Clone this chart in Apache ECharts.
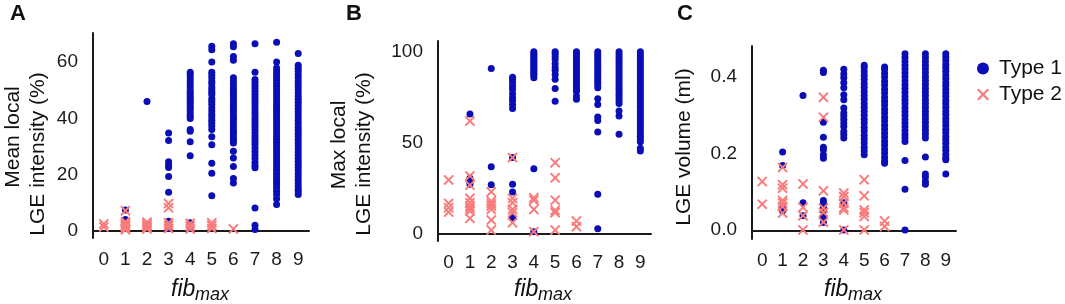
<!DOCTYPE html>
<html>
<head>
<meta charset="utf-8">
<script src="https://cdn.jsdelivr.net/npm/echarts@6/dist/echarts.min.js"></script>
<style>
  html, body { margin: 0; padding: 0; background: #fff; }
  #main { width: 1065px; height: 304px; }
</style>
</head>
<body>
<div id="main"></div>
<script>
// fib_max categories, shared by the three panels
var categories = ['0', '1', '2', '3', '4', '5', '6', '7', '8', '9'];

// tick labels
var meanTicks = [0, 20, 40, 60];
var maxTicks = [0, 50, 100];
var volTicks = [0, 0.2, 0.4];

// A: mean local LGE intensity (%), one list per fib_max category
var meanType1 = [
  [],
  [7.5, 4.2],
  [46.0],
  [34.8, 32.2, 24.6, 23.6, 22.6, 19.4, 13.8, 3.5, 2.2, 1.0],
  [56.4, 55.5, 54.4, 53.4, 52.3, 51.2, 50.2, 49.3, 48.5, 47.5, 46.7, 45.9, 45.2, 44.3, 43.5, 42.6, 41.6, 40.8, 40.0, 36.1, 35.5, 31.7, 26.8, 3.0, 1.2],
  [65.6, 64.4, 60.0, 56.4, 55.4, 54.3, 53.1, 52.2, 51.0, 50.1, 49.2, 48.4, 47.0, 46.1, 45.0, 43.7, 42.6, 41.5, 40.5, 39.4, 38.4, 37.3, 36.1, 33.5, 30.7, 24.1, 20.6, 12.6],
  [66.5, 65.4, 62.0, 60.6, 54.4, 53.3, 52.1, 51.0, 50.0, 48.9, 48.0, 47.1, 46.0, 44.9, 44.0, 43.1, 42.0, 40.9, 40.0, 39.1, 38.0, 37.0, 35.9, 35.0, 34.1, 33.0, 32.1, 31.3, 28.4, 26.0, 23.0, 18.7, 17.1],
  [66.5, 56.4, 53.8, 52.8, 51.8, 50.7, 49.6, 48.6, 47.6, 46.5, 45.5, 44.4, 43.4, 42.3, 41.3, 40.2, 39.2, 38.1, 37.1, 36.0, 35.0, 33.9, 32.9, 31.8, 30.8, 29.5, 28.3, 27.0, 25.8, 24.5, 23.4, 22.5, 8.2, 2.1, 0.6],
  [67.0, 60.0, 57.9, 56.8, 55.7, 54.6, 53.5, 52.4, 51.3, 50.2, 49.1, 48.0, 46.9, 45.8, 44.7, 43.6, 42.5, 41.4, 40.3, 39.2, 38.1, 37.0, 35.9, 34.8, 33.7, 32.6, 31.5, 30.4, 29.3, 28.2, 27.1, 26.0, 24.9, 23.8, 22.7, 21.6, 20.5, 19.4, 18.3, 17.2, 16.5, 15.4, 14.2, 13.0, 11.5, 9.5],
  [63.0, 58.9, 57.8, 56.7, 55.6, 54.5, 53.4, 52.3, 51.2, 50.1, 49.0, 47.9, 46.8, 45.7, 44.6, 43.5, 42.4, 41.3, 40.2, 39.1, 38.0, 36.9, 35.8, 34.7, 33.6, 32.5, 31.4, 30.3, 29.2, 28.1, 27.0, 25.9, 24.8, 23.7, 22.6, 21.5, 20.4, 19.3, 18.2, 17.1, 16.0, 14.9, 14.0, 13.0]
];
var meanType2 = [
  [1.5, 2.6],
  [7.3, 3.4, 2.8, 2.2, 1.6, 1.0, 0.5],
  [3.2, 2.6, 2.0, 1.4, 0.8],
  [9.8, 8.3, 3.0, 2.0, 1.0],
  [2.8, 1.8, 0.8],
  [3.0, 2.0, 1.0],
  [0.8],
  [], [], []
];

// B: max local LGE intensity (%)
var maxType1 = [
  [],
  [65.7, 30.3, 28.3, 27.0],
  [90.8, 36.7, 26.8],
  [86.0, 84.8, 83.0, 81.0, 79.3, 76.9, 74.7, 73.2, 71.0, 68.8, 41.7, 27.0, 22.8, 8.6],
  [100, 99, 98, 97, 96, 95, 94, 93, 92, 91, 90, 89, 88, 87, 85.7, 35.6, 0.9],
  [100, 99, 97.5, 95.8, 93.4, 91.2, 89.7, 87.5, 84.8, 79.8, 72.8],
  [100, 98.5, 97, 95.5, 94, 92.5, 91, 89.5, 88, 86.5, 85, 83.5, 82, 80.5, 79, 78.3, 75.6, 73.8],
  [100, 98.6, 97.2, 95.8, 94.4, 93, 91.6, 90.2, 88.8, 87.4, 86, 84.6, 83.2, 81.8, 80.2, 74.1, 71.0, 64.0, 62.2, 55.8, 21.5, 2.6],
  [100, 98.5, 97, 95.5, 94, 92.5, 91, 89.5, 88, 86.5, 85, 83.5, 82, 80.5, 79, 77.5, 76, 74.5, 73, 71.5, 67.3, 64.6, 54.5],
  [100, 98.5, 97, 95.5, 94, 92.5, 91, 89.5, 88, 86.5, 85, 83.5, 82, 80.5, 79, 77.5, 76, 74.5, 73, 71.5, 70, 68.5, 67, 65.5, 64, 62.5, 61, 59.5, 58, 56.5, 55, 53.5, 52, 50.5, 46.8, 45.3]
];
var maxType2 = [
  [29.4, 16.5, 14.1, 11.7],
  [61.8, 31.6, 26.6, 19.3, 16.9, 15.0, 13.8, 12.3, 8.3],
  [22.9, 17.8, 16.3, 15.0, 13.2, 7.3, 1.8],
  [41.7, 19.3, 16.9, 13.2, 11.4, 5.9],
  [19.6, 18.3, 13.2, 0.9],
  [38.9, 30.6, 18.3, 12.7, 11.4, 1.8],
  [6.8, 3.7],
  [], [], []
];

// C: LGE volume (ml)
var volType1 = [
  [],
  [0.204, 0.169, 0.058, 0.051],
  [0.352, 0.072, 0.038],
  [0.418, 0.412, 0.282, 0.243, 0.217, 0.21, 0.197, 0.188, 0.078, 0.069, 0.059, 0.051, 0.036, 0.02],
  [0.42, 0.408, 0.398, 0.385, 0.372, 0.354, 0.341, 0.319, 0.306, 0.298, 0.289, 0.28, 0.271, 0.258, 0.25, 0.241, 0.072, 0.001],
  [0.431, 0.424, 0.414, 0.404, 0.394, 0.383, 0.373, 0.362, 0.352, 0.342, 0.331, 0.321, 0.311, 0.3, 0.29, 0.28, 0.269, 0.259, 0.248, 0.238, 0.228, 0.217, 0.207, 0.197],
  [0.426, 0.42, 0.41, 0.4, 0.389, 0.379, 0.368, 0.358, 0.347, 0.337, 0.327, 0.316, 0.306, 0.295, 0.285, 0.274, 0.264, 0.253, 0.243, 0.232, 0.222, 0.211, 0.201, 0.19, 0.18, 0.175],
  [0.461, 0.451, 0.441, 0.431, 0.421, 0.411, 0.401, 0.39, 0.38, 0.37, 0.36, 0.35, 0.34, 0.33, 0.32, 0.31, 0.3, 0.29, 0.28, 0.27, 0.26, 0.25, 0.241, 0.232, 0.182, 0.107, 0.001],
  [0.461, 0.451, 0.441, 0.431, 0.421, 0.411, 0.401, 0.391, 0.381, 0.371, 0.361, 0.351, 0.341, 0.331, 0.321, 0.311, 0.301, 0.291, 0.281, 0.271, 0.261, 0.251, 0.241, 0.191, 0.147, 0.139, 0.127, 0.12],
  [0.461, 0.452, 0.443, 0.433, 0.424, 0.415, 0.405, 0.396, 0.386, 0.377, 0.368, 0.358, 0.349, 0.339, 0.33, 0.321, 0.311, 0.302, 0.292, 0.283, 0.274, 0.264, 0.255, 0.245, 0.236, 0.227, 0.217, 0.208, 0.198, 0.189, 0.184, 0.147]
];
var volType2 = [
  [0.127, 0.068],
  [0.164, 0.119, 0.11, 0.078, 0.071, 0.062, 0.045],
  [0.121, 0.06, 0.038, 0.001],
  [0.347, 0.295, 0.103, 0.058, 0.047, 0.021],
  [0.097, 0.088, 0.071, 0.059, 0.053, 0.001],
  [0.132, 0.09, 0.053, 0.046, 0.036, 0.001],
  [0.024, 0.01],
  [], [], []
];

var BLUE = '#0a0eb4';
var PINK = '#f97b7b';
var FONT = 'Liberation Sans, Arial, Helvetica, sans-serif';
var CROSS = 'path://M0,1.3L1.3,0L5,3.7L8.7,0L10,1.3L6.3,5L10,8.7L8.7,10L5,6.3L1.3,10L0,8.7L3.7,5Z';

function toPoints(cols) {
  var out = [];
  cols.forEach(function (vals, i) {
    vals.forEach(function (v) { out.push([i, v]); });
  });
  return out;
}

function xAxisFor(idx) {
  return {
    type: 'category', gridIndex: idx, data: categories, boundaryGap: true,
    axisLine: { lineStyle: { color: '#1a1a1a', width: 2 } },
    axisTick: { show: false },
    splitLine: { show: false },
    axisLabel: { margin: 12, fontSize: 19, color: '#1a1a1a', fontFamily: FONT }
  };
}

function yAxisFor(idx, min, max, ticks, fmt) {
  return {
    type: 'value', gridIndex: idx, min: min, max: max,
    axisLine: { show: true, lineStyle: { color: '#1a1a1a', width: 2 } },
    axisTick: { show: false },
    splitLine: { show: false },
    axisLabel: {
      customValues: ticks, margin: 15, fontSize: 19, color: '#1a1a1a', fontFamily: FONT,
      formatter: fmt
    }
  };
}

function dots(idx, cols) {
  return {
    name: 'Type 1', type: 'scatter', xAxisIndex: idx, yAxisIndex: idx,
    symbol: 'circle', symbolSize: 7, data: toPoints(cols),
    itemStyle: { color: BLUE, opacity: 1 }, z: 2
  };
}

function crosses(idx, cols) {
  return {
    name: 'Type 2', type: 'scatter', xAxisIndex: idx, yAxisIndex: idx,
    symbol: CROSS, symbolSize: 10.5, data: toPoints(cols),
    itemStyle: { color: PINK, opacity: 1 }, z: 3
  };
}

function label(text, x, y, size, extra) {
  var style = { text: text, x: 0, y: 0, fill: '#111', font: (extra || '') + ' ' + size + 'px ' + FONT,
    textAlign: 'center', textVerticalAlign: 'middle' };
  return { type: 'text', x: x, y: y, style: style };
}

function yTitle(text, x, y) {
  var t = label(text, x, y, 21);
  t.rotation = Math.PI / 2;
  return t;
}

function xTitle(x) {
  return [
    { type: 'text', x: x, y: 290, style: { text: 'fib', fill: '#111', font: 'italic 23px ' + FONT, textAlign: 'left', textVerticalAlign: 'middle' } },
    { type: 'text', x: x + 24, y: 295, style: { text: 'max', fill: '#111', font: 'italic 18px ' + FONT, textAlign: 'left', textVerticalAlign: 'middle' } }
  ];
}

var dom = document.getElementById('main');
var myChart = echarts.init(dom, null, { renderer: 'canvas' });

var option = {
  animation: false,
  textStyle: { fontFamily: FONT },
  grid: [
    { left: 93, top: 33, width: 216, height: 205 },
    { left: 438, top: 41, width: 213, height: 200 },
    { left: 752, top: 46, width: 204, height: 193 }
  ],
  xAxis: [xAxisFor(0), xAxisFor(1), xAxisFor(2)],
  yAxis: [
    yAxisFor(0, -2.4, 70.3, meanTicks),
    yAxisFor(1, -4.2, 105.9, maxTicks),
    yAxisFor(2, -0.0228, 0.481, volTicks, function (v) { return v.toFixed(1); })
  ],
  legend: {
    orient: 'vertical', left: 972, top: 53, itemGap: 5,
    itemWidth: 22, itemHeight: 12,
    textStyle: { fontSize: 21, color: '#111', fontFamily: FONT },
    data: ['Type 1', 'Type 2']
  },
  graphic: [
    label('A', 18, 14, 22, 'bold'),
    label('B', 354, 14, 22, 'bold'),
    label('C', 685, 14, 22, 'bold'),
    yTitle('Mean local', 13, 137),
    yTitle('LGE intensity (%)', 38, 154),
    yTitle('Max local', 339, 145),
    yTitle('LGE intensity (%)', 364, 154),
    yTitle('LGE volume (ml)', 684, 147)
  ].concat(xTitle(171), xTitle(514), xTitle(824)),
  series: [
    dots(0, meanType1), crosses(0, meanType2),
    dots(1, maxType1), crosses(1, maxType2),
    dots(2, volType1), crosses(2, volType2)
  ]
};

if (option && typeof option === 'object') {
  myChart.setOption(option, true);
}
</script>
</body>
</html>
